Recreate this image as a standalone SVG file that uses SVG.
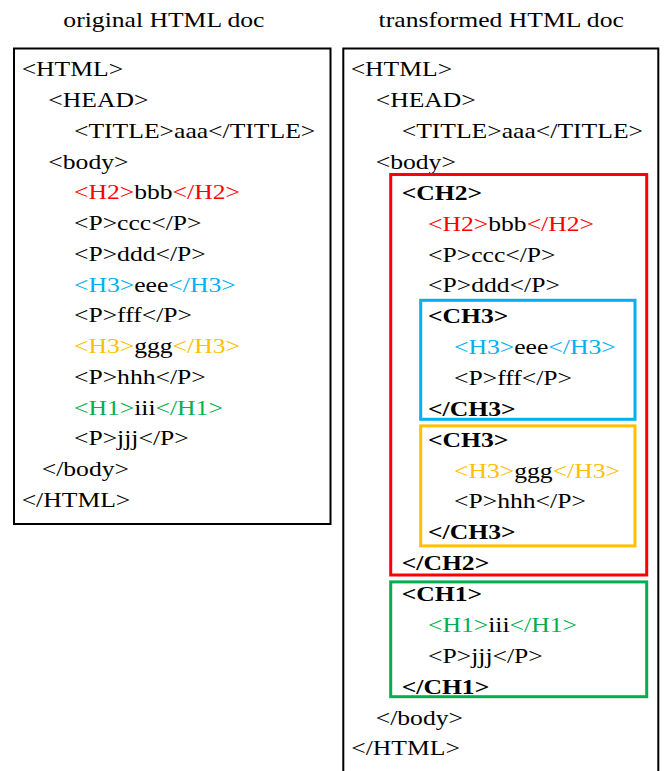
<svg xmlns="http://www.w3.org/2000/svg" width="668" height="771" viewBox="0 0 668 771">
  <style>
    text { font-family: "Liberation Serif", "Times New Roman", serif; font-size: 22px; fill: #000; }
    .b { font-weight: bold; }
    .red { fill: #FF0000; }
    .blue { fill: #00B0F0; }
    .orange { fill: #FFC000; }
    .green { fill: #00B050; }
    .doc { fill: #fff; stroke: #000; stroke-width: 2; }
    .sec { fill: none; stroke-width: 3; }
  </style>

  <!-- headings (text is stretched horizontally by 1.165) -->
  <g id="titles" transform="scale(1.165 1)">
    <text x="54.4" y="27">original HTML doc</text>
    <text x="325" y="27">transformed HTML doc</text>
  </g>

  <!-- left document -->
  <g id="original-doc">
    <rect class="doc" x="14" y="48.5" width="316.5" height="475.5"/>
    <g transform="scale(1.165 1)">
      <text x="18.6" y="76.3">&lt;HTML&gt;</text>
      <text x="41.5" y="107.05">&lt;HEAD&gt;</text>
      <text x="63.5" y="137.8">&lt;TITLE&gt;aaa&lt;/TITLE&gt;</text>
      <text x="41.5" y="168.55">&lt;body&gt;</text>
      <text x="63.5" y="199.3"><tspan class="red">&lt;H2&gt;</tspan>bbb<tspan class="red">&lt;/H2&gt;</tspan></text>
      <text x="63.5" y="230.05">&lt;P&gt;ccc&lt;/P&gt;</text>
      <text x="63.5" y="260.8">&lt;P&gt;ddd&lt;/P&gt;</text>
      <text x="63.5" y="291.55"><tspan class="blue">&lt;H3&gt;</tspan>eee<tspan class="blue">&lt;/H3&gt;</tspan></text>
      <text x="63.5" y="322.3">&lt;P&gt;fff&lt;/P&gt;</text>
      <text x="63.5" y="353.05"><tspan class="orange">&lt;H3&gt;</tspan>ggg<tspan class="orange">&lt;/H3&gt;</tspan></text>
      <text x="63.5" y="383.8">&lt;P&gt;hhh&lt;/P&gt;</text>
      <text x="63.5" y="414.55"><tspan class="green">&lt;H1&gt;</tspan>iii<tspan class="green">&lt;/H1&gt;</tspan></text>
      <text x="63.5" y="445.3">&lt;P&gt;jjj&lt;/P&gt;</text>
      <text x="35.8" y="476.05">&lt;/body&gt;</text>
      <text x="18.6" y="506.8">&lt;/HTML&gt;</text>
    </g>
  </g>

  <!-- right document (box runs past the bottom edge) -->
  <g id="transformed-doc">
    <rect class="doc" x="343.3" y="48.5" width="315" height="740"/>
    <g transform="scale(1.165 1)">
      <text x="301" y="76.3">&lt;HTML&gt;</text>
      <text x="322.5" y="107.17">&lt;HEAD&gt;</text>
      <text x="344.8" y="138.04">&lt;TITLE&gt;aaa&lt;/TITLE&gt;</text>
      <text x="322.5" y="168.91">&lt;body&gt;</text>
      <text x="322.5" y="724.57">&lt;/body&gt;</text>
      <text x="301.5" y="755.44">&lt;/HTML&gt;</text>
    </g>
  </g>

  <!-- CH2 section -->
  <g id="ch2">
    <rect class="sec" stroke="#FF0000" x="390.7" y="174.5" width="256" height="400.5"/>
    <g transform="scale(1.165 1)">
      <text class="b" x="344.8" y="199.78">&lt;CH2&gt;</text>
      <text x="367.4" y="230.65"><tspan class="red">&lt;H2&gt;</tspan>bbb<tspan class="red">&lt;/H2&gt;</tspan></text>
      <text x="367.4" y="261.52">&lt;P&gt;ccc&lt;/P&gt;</text>
      <text x="367.4" y="292.39">&lt;P&gt;ddd&lt;/P&gt;</text>
      <text class="b" x="344.8" y="570.22">&lt;/CH2&gt;</text>
    </g>
  </g>

  <!-- first CH3 section -->
  <g id="ch3-eee">
    <rect class="sec" stroke="#00B0F0" x="420.7" y="300.3" width="214.3" height="119"/>
    <g transform="scale(1.165 1)">
      <text class="b" x="367.4" y="323.26">&lt;CH3&gt;</text>
      <text x="389.7" y="354.13"><tspan class="blue">&lt;H3&gt;</tspan>eee<tspan class="blue">&lt;/H3&gt;</tspan></text>
      <text x="389.7" y="385">&lt;P&gt;fff&lt;/P&gt;</text>
      <text class="b" x="367.4" y="415.87">&lt;/CH3&gt;</text>
    </g>
  </g>

  <!-- second CH3 section -->
  <g id="ch3-ggg">
    <rect class="sec" stroke="#FFC000" x="420.7" y="425.9" width="214.3" height="120"/>
    <g transform="scale(1.165 1)">
      <text class="b" x="367.4" y="446.74">&lt;CH3&gt;</text>
      <text x="389.7" y="477.61"><tspan class="orange">&lt;H3&gt;</tspan>ggg<tspan class="orange">&lt;/H3&gt;</tspan></text>
      <text x="389.7" y="508.48">&lt;P&gt;hhh&lt;/P&gt;</text>
      <text class="b" x="367.4" y="539.35">&lt;/CH3&gt;</text>
    </g>
  </g>

  <!-- CH1 section -->
  <g id="ch1">
    <rect class="sec" stroke="#00B050" x="390.7" y="581.9" width="256" height="114.8"/>
    <g transform="scale(1.165 1)">
      <text class="b" x="344.8" y="601.09">&lt;CH1&gt;</text>
      <text x="367.4" y="631.96"><tspan class="green">&lt;H1&gt;</tspan>iii<tspan class="green">&lt;/H1&gt;</tspan></text>
      <text x="367.4" y="662.83">&lt;P&gt;jjj&lt;/P&gt;</text>
      <text class="b" x="344.8" y="693.7">&lt;/CH1&gt;</text>
    </g>
  </g>

  <g id="connectors"/>
</svg>
